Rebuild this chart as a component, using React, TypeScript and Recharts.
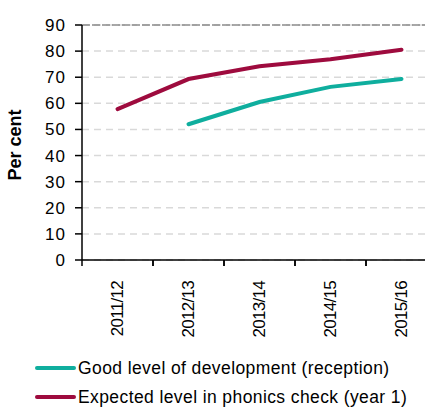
import { LineChart, Line, XAxis, YAxis, CartesianGrid, Legend, ReferenceLine } from "recharts";

const years = ["2011/12", "2012/13", "2013/14", "2014/15", "2015/16"];
const goodLevel = [null, 52, 60.5, 66.3, 69.3];
const phonics = [57.8, 69.3, 74.2, 76.9, 80.5];
const yTicks = [0, 10, 20, 30, 40, 50, 60, 70, 80, 90];

const TEAL = "#0FAE9E";
const MAROON = "#9E0B3E";
const FONT = "Liberation Sans, Arial, sans-serif";

const data = years.map((y, i) => ({ year: y, good: goodLevel[i], phonics: phonics[i] }));

const legendItems = [
    { label: "Good level of development (reception)", color: TEAL },
    { label: "Expected level in phonics check (year 1)", color: MAROON },
];

// excel style: ticks sit between categories, label rotated
function YearTick(props: any) {
    const { x, y, payload } = props;
    const half = 35.5;
    return (
        <g>
            <line x1={x - half} y1={y - 8} x2={x - half} y2={y - 2} stroke="#000" strokeWidth={1.5} />
            <line x1={x + half} y1={y - 8} x2={x + half} y2={y - 2} stroke="#000" strokeWidth={1.5} />
            <text x={x} y={y + 13} transform={`rotate(-90, ${x}, ${y + 13})`} textAnchor="end" dominantBaseline="central"
                fontSize={17} letterSpacing={-0.7} fill="#000" fontFamily={FONT}>
                {payload.value}
            </text>
        </g>
    );
}

function LegendBox() {
    return (
        <div style={{ position: "relative", height: 78, fontFamily: FONT, fontSize: 17.5, letterSpacing: 0.4 }}>
            {legendItems.map((it, i) => (
                <div key={it.label} style={{ position: "absolute", left: 35, top: 26 + i * 29, display: "flex", alignItems: "center", whiteSpace: "nowrap", height: 24 }}>
                    <span style={{ display: "inline-block", width: 41, height: 4.5, background: it.color, borderRadius: 2, marginRight: 2 }} />
                    <span style={{ color: "#000" }}>{it.label}</span>
                </div>
            ))}
        </div>
    );
}

export default function App() {
    return (
        <div style={{ position: "absolute", left: 0, top: 0, width: 425, height: 408, overflow: "hidden", background: "#fff" }}>
            <LineChart width={445} height={408} data={data} margin={{ top: 25, right: 8, left: 0, bottom: 0 }}>
                <CartesianGrid vertical={false} stroke="#D9D9D9" strokeDasharray="7 5" strokeWidth={1.5} />
                <ReferenceLine y={90} stroke="#8C8C8C" strokeDasharray="8 2" strokeWidth={1.5} />
                <XAxis dataKey="year" height={70} tickLine={false} axisLine={{ stroke: "#000", strokeWidth: 1.5 }}
                    tick={<YearTick />} interval={0} padding={{ left: 35.5, right: 35.5 }} />
                <YAxis domain={[0, 90]} ticks={yTicks} width={82} tickSize={7} tickMargin={9}
                    axisLine={{ stroke: "#000", strokeWidth: 1.5 }} tickLine={{ stroke: "#000", strokeWidth: 1.5 }}
                    tick={{ fill: "#000", fontSize: 17, fontFamily: FONT, letterSpacing: 1 }}
                    label={{ value: "Per cent", angle: -90, position: "insideLeft", offset: 15, fontSize: 18, fontWeight: "bold", fill: "#000", fontFamily: FONT, dy: 38 }} />
                <Legend verticalAlign="bottom" height={78} content={<LegendBox />} />
                <Line dataKey="good" stroke={TEAL} strokeWidth={4} dot={false} isAnimationActive={false} strokeLinecap="round" />
                <Line dataKey="phonics" stroke={MAROON} strokeWidth={4} dot={false} isAnimationActive={false} strokeLinecap="round" />
            </LineChart>
        </div>
    );
}
